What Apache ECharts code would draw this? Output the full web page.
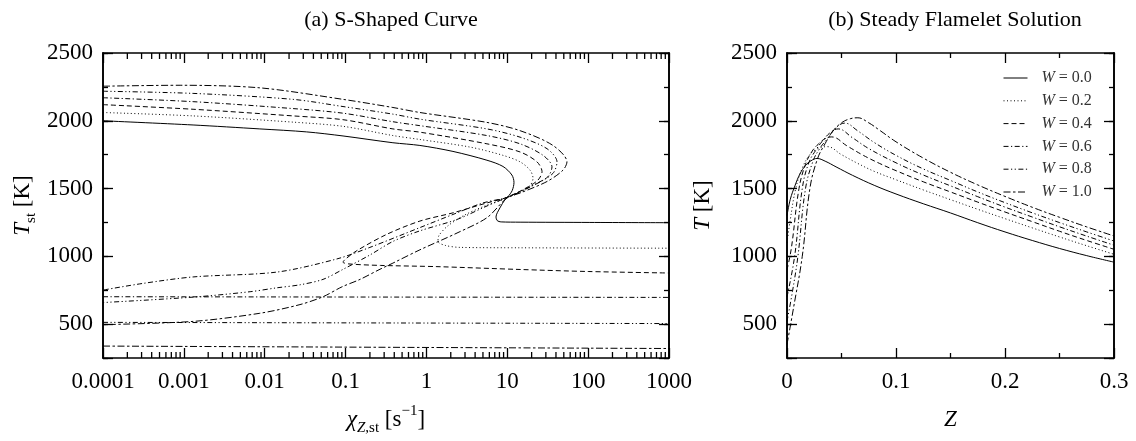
<!DOCTYPE html>
<html>
<head>
<meta charset="utf-8">
<script src="https://cdn.jsdelivr.net/npm/echarts/dist/echarts.min.js"></script>
<style>
  html, body { margin: 0; padding: 0; background: #fff; }
  #chart { width: 1136px; height: 441px; }
</style>
</head>
<body>
<div id="chart"></div>
<script>
// ---------------- data ----------------
const chiTickLabels = ['0.0001', '0.001', '0.01', '0.1', '1', '10', '100', '1000'];
const zTickLabels = ['0', '0.1', '0.2', '0.3'];
const tempTickLabels = ['500', '1000', '1500', '2000', '2500'];
const wLabels = ['W = 0.0', 'W = 0.2', 'W = 0.4', 'W = 0.6', 'W = 0.8', 'W = 1.0'];
const chiRange = [1e-4, 1000];
const zRange = [0, 0.3];
const tempRange = [250, 2500];

// (a) S-shaped curves: [chi_st, T_st] following each curve
const sCurveW00 = [[1e-4,2000],[1.3e-3,1969],[8.7e-3,1940],[0.033,1918],[0.093,1888],[0.385,1838],[0.83,1818],[2.13,1774],[5.6,1709],[8.85,1663],[11.4,1600],[12.1,1545],[11.5,1485],[10.2,1440],[9.36,1418],[8.1,1357],[7.25,1290],[7.5,1264],[8.4,1254],[14.4,1252],[105,1250],[1000,1248]];
const sCurveW02 = [[1e-4,2061],[1.3e-3,2036],[0.0224,1990],[0.093,1959],[0.385,1891],[0.83,1862],[3.46,1806],[8.85,1745],[14.4,1697],[19.1,1636],[20.8,1576],[19.1,1522],[14.4,1474],[9.9,1430],[5.3,1372],[3.0,1306],[1.85,1226],[1.43,1154],[1.39,1110],[1.7,1081],[2.6,1066],[14.4,1063],[1000,1060]];
const sCurveW04 = [[1e-4,2119],[1.3e-3,2085],[0.0224,2036],[0.093,2008],[0.385,1940],[0.83,1916],[5.6,1830],[14.4,1770],[23.3,1697],[26.9,1624],[24,1563],[17.5,1508],[9.9,1435],[5.6,1394],[2.13,1321],[0.83,1260],[0.325,1163],[0.138,1042],[0.1,980],[0.093,957],[0.11,944],[0.27,933],[1.35,924],[14.4,903],[100,888],[1000,877]];
const sCurveW06 = [[1e-4,2170],[1.3e-3,2141],[0.0224,2090],[0.093,2056],[0.385,1993],[0.83,1964],[5.6,1891],[14.4,1830],[27.7,1745],[35.7,1661],[31.9,1588],[20.8,1522],[9.9,1435],[5.0,1394],[2.13,1309],[0.83,1212],[0.2,1066],[0.0783,981],[0.0142,884],[1.3e-3,848],[3.1e-4,800],[1e-4,751]];
const sCurveW08 = [[1e-4,2218],[1.3e-3,2202],[0.0224,2158],[0.093,2105],[0.385,2049],[0.83,2012],[5.6,1940],[14.4,1879],[31,1794],[41.2,1697],[36.7,1612],[23.3,1539],[9.9,1435],[5.3,1365],[2.39,1272],[0.83,1188],[0.385,1110],[0.2,1010],[0.0903,900],[0.0526,830],[0.0273,790],[0.0142,768],[6.6e-3,739],[1.3e-3,699],[1e-4,659]];
const sCurveW10 = [[1e-4,2255],[9e-4,2262],[8.7e-3,2243],[0.093,2158],[0.385,2098],[0.83,2061],[5.6,1988],[14.4,1927],[36.7,1818],[54.7,1697],[48.9,1636],[31,1552],[14.4,1467],[9.9,1430],[5.6,1285],[2.39,1172],[0.83,1048],[0.385,950],[0.267,905],[0.151,830],[0.0903,775],[0.0526,702],[0.0273,644],[8.7e-3,580],[1.3e-3,520],[1e-4,496]];
const sLowerW06 = [[1e-4,702],[1000,697]];
const sLowerW08 = [[1e-4,513],[1000,504]];
const sLowerW10 = [[1e-4,338],[1000,320]];

// (b) steady flamelet solutions: [Z, T]
const flameletW00 = [[0,1300],[0.003,1420],[0.0075,1525],[0.012,1610],[0.017,1670],[0.022,1705],[0.0275,1722],[0.035,1702],[0.045,1660],[0.06,1598],[0.08,1524],[0.1,1460],[0.125,1388],[0.15,1320],[0.175,1248],[0.2,1180],[0.225,1117],[0.25,1058],[0.275,1005],[0.3,957]];
const flameletW02 = [[0,1100],[0.003,1270],[0.008,1500],[0.014,1650],[0.02,1740],[0.027,1790],[0.037,1809],[0.05,1750],[0.065,1685],[0.08,1627],[0.1,1565],[0.125,1490],[0.15,1418],[0.175,1347],[0.2,1278],[0.225,1210],[0.25,1143],[0.275,1078],[0.3,1015]];
const flameletW04 = [[0,900],[0.004,1060],[0.011,1500],[0.017,1680],[0.023,1775],[0.029,1830],[0.035,1868],[0.041,1881],[0.055,1815],[0.07,1745],[0.085,1685],[0.1,1632],[0.125,1550],[0.15,1475],[0.175,1400],[0.2,1327],[0.225,1256],[0.25,1185],[0.275,1117],[0.3,1052]];
const flameletW06 = [[0,700],[0.007,1000],[0.014,1500],[0.02,1690],[0.027,1790],[0.033,1855],[0.04,1915],[0.047,1940],[0.06,1875],[0.075,1795],[0.1,1690],[0.125,1600],[0.15,1520],[0.175,1440],[0.2,1363],[0.225,1290],[0.25,1218],[0.275,1149],[0.3,1082]];
const flameletW08 = [[0,520],[0.005,740],[0.01,1000],[0.017,1500],[0.024,1705],[0.03,1795],[0.037,1868],[0.045,1950],[0.053,1983],[0.065,1925],[0.08,1840],[0.1,1745],[0.125,1645],[0.15,1560],[0.175,1475],[0.2,1396],[0.225,1321],[0.25,1249],[0.275,1180],[0.3,1113]];
const flameletW10 = [[0,350],[0.006,620],[0.014,1000],[0.021,1500],[0.028,1720],[0.035,1832],[0.042,1922],[0.05,1985],[0.058,2015],[0.065,2022],[0.075,1985],[0.085,1930],[0.1,1845],[0.125,1725],[0.15,1620],[0.175,1527],[0.2,1442],[0.225,1362],[0.25,1288],[0.275,1217],[0.3,1150]];

// minor tick positions of the logarithmic axis (2..9 x 10^k)
const chiMinorTicks = [];
for (let k = -4; k <= 2; k++) for (let m = 2; m <= 9; m++) chiMinorTicks.push(m * Math.pow(10, k));

// ---------------- styling ----------------
const FONT = 'Liberation Serif';
const dashStyles = ['solid', [1, 2.5], [5, 3], [5, 2.5, 1.2, 2.5], [5, 2.5, 1.2, 2.5, 1.2, 2.5], [7, 2.5, 2.5, 2.5]];
const sCurves = [sCurveW00, sCurveW02, sCurveW04, sCurveW06, sCurveW08, sCurveW10];
const sLowers = [null, null, null, sLowerW06, sLowerW08, sLowerW10];
const flamelets = [flameletW00, flameletW02, flameletW04, flameletW06, flameletW08, flameletW10];

function lineSeries(name, data, xi, yi, i, smooth) {
  return {
    type: 'line', name: name, data: data, xAxisIndex: xi, yAxisIndex: yi,
    symbol: 'none', showSymbol: false, smooth: smooth, animation: false, silent: true, z: 3,
    lineStyle: { color: '#000', width: 1, type: dashStyles[i] },
    itemStyle: { color: '#000', opacity: 0 }
  };
}

const series = [];
sCurves.forEach((d, i) => {
  series.push(lineSeries('S-curve ' + wLabels[i], d, 0, 0, i, 0.3));
  if (sLowers[i]) series.push(lineSeries('S-curve lower ' + wLabels[i], sLowers[i], 0, 0, i, false));
});
flamelets.forEach((d, i) => series.push(lineSeries(wLabels[i], d, 2, 4, i, 0.4)));

series.push({
  type: 'custom', name: 'minorTicks', xAxisIndex: 0, yAxisIndex: 0, silent: true, animation: false,
  clip: false, z: 5,
  data: chiMinorTicks.map(v => [v, tempRange[0]]),
  renderItem: function (params, api) {
    const v = api.value(0);
    const b = api.coord([v, tempRange[0]]);
    const t = api.coord([v, tempRange[1]]);
    const st = { stroke: '#000', lineWidth: 1.3 };
    return {
      type: 'group', children: [
        { type: 'line', shape: { x1: b[0], y1: b[1], x2: b[0], y2: b[1] - 6 }, style: st },
        { type: 'line', shape: { x1: t[0], y1: t[1], x2: t[0], y2: t[1] + 6 }, style: st }
      ]
    };
  }
});

const axisLine = { show: true, onZero: false, lineStyle: { color: '#000', width: 1.6 } };
const longTick = { show: true, inside: true, length: 10, lineStyle: { color: '#000', width: 1.3 } };
const shortTick = { show: true, inside: true, length: 5, lineStyle: { color: '#000', width: 1.3 } };
const tickFont = { color: '#000', fontFamily: FONT, fontSize: 23 };
const nameRich = {
  it: { fontFamily: FONT, fontSize: 23, fontStyle: 'italic', color: '#000', lineHeight: 32, verticalAlign: 'middle' },
  subi: { fontFamily: FONT, fontSize: 15, fontStyle: 'italic', color: '#000', lineHeight: 16, verticalAlign: 'bottom' },
  sub: { fontFamily: FONT, fontSize: 15, color: '#000', lineHeight: 16, verticalAlign: 'bottom' },
  sup: { fontFamily: FONT, fontSize: 15, color: '#000', lineHeight: 16, verticalAlign: 'top' }
};
const nameStyle = { fontFamily: FONT, fontSize: 23, color: '#000', lineHeight: 32, rich: nameRich };
const tempLabel = v => (v % 500 === 0 ? tempTickLabels[v / 500 - 1] : '');

function tempAxes(g, nameText, gap) {
  return [
    { gridIndex: g, type: 'value', position: 'left', min: tempRange[0], max: tempRange[1], splitNumber: 5,
      axisLine: axisLine, axisTick: longTick, splitLine: { show: false },
      axisLabel: Object.assign({ margin: 10, formatter: tempLabel }, tickFont),
      name: nameText, nameLocation: 'middle', nameRotate: 90, nameGap: gap, nameTextStyle: nameStyle },
    { gridIndex: g, type: 'value', position: 'left', min: tempRange[0], max: tempRange[1], interval: 250,
      axisLine: axisLine, axisTick: shortTick, splitLine: { show: false }, axisLabel: { show: false } },
    { gridIndex: g, type: 'value', position: 'right', min: tempRange[0], max: tempRange[1], splitNumber: 5,
      axisLine: axisLine, axisTick: longTick, splitLine: { show: false }, axisLabel: { show: false } },
    { gridIndex: g, type: 'value', position: 'right', min: tempRange[0], max: tempRange[1], interval: 250,
      axisLine: axisLine, axisTick: shortTick, splitLine: { show: false }, axisLabel: { show: false } }
  ];
}

const option = {
  backgroundColor: '#fff',
  animation: false,
  title: [
    { text: '(a) S-Shaped Curve', left: 386, top: 4, textAlign: 'center',
      textStyle: { fontFamily: FONT, fontSize: 22, fontWeight: 'normal', color: '#000' } },
    { text: '(b) Steady Flamelet Solution', left: 950, top: 4, textAlign: 'center',
      textStyle: { fontFamily: FONT, fontSize: 22, fontWeight: 'normal', color: '#000' } }
  ],
  grid: [
    { left: 103, top: 53, width: 566, height: 309 },
    { left: 787, top: 53, width: 327, height: 309 }
  ],
  legend: {
    data: wLabels, orient: 'vertical', left: 998, top: 63,
    itemWidth: 24, itemHeight: 12, itemGap: 2.8, selectedMode: false,
    itemStyle: { opacity: 0 },
    lineStyle: { width: 1 },
    formatter: n => n.replace('W', '{i|W}'),
    textStyle: { fontFamily: FONT, fontSize: 16, color: '#333', lineHeight: 20, padding: [0, 0, 0, 9],
      rich: { i: { fontFamily: FONT, fontSize: 16, fontStyle: 'italic', color: '#333', lineHeight: 20 } } }
  },
  xAxis: [
    { gridIndex: 0, type: 'log', logBase: 10, min: chiRange[0], max: chiRange[1], splitNumber: 7, position: 'bottom',
      axisLine: axisLine, axisTick: longTick, splitLine: { show: false },
      axisLabel: Object.assign({ margin: 12, formatter: v => chiTickLabels[Math.round(Math.log10(v)) + 4] || '' }, tickFont),
      name: '{it|χ}{subi|Z}{sub|,st} [s{sup|−1}]', nameLocation: 'middle', nameGap: 46, nameTextStyle: nameStyle },
    { gridIndex: 0, type: 'log', logBase: 10, min: chiRange[0], max: chiRange[1], splitNumber: 7, position: 'top',
      axisLine: axisLine, axisTick: longTick, splitLine: { show: false }, axisLabel: { show: false } },
    { gridIndex: 1, type: 'value', min: zRange[0], max: zRange[1], interval: 0.1, position: 'bottom',
      axisLine: axisLine, axisTick: longTick, splitLine: { show: false },
      minorTick: { show: true, splitNumber: 2, length: 5, lineStyle: { color: '#000', width: 1.3 } },
      axisLabel: Object.assign({ margin: 12, formatter: v => zTickLabels[Math.round(v * 10)] }, tickFont),
      name: '{it|Z}', nameLocation: 'middle', nameGap: 46, nameTextStyle: nameStyle },
    { gridIndex: 1, type: 'value', min: zRange[0], max: zRange[1], interval: 0.1, position: 'top',
      axisLine: axisLine, axisTick: longTick, splitLine: { show: false },
      minorTick: { show: true, splitNumber: 2, length: 5, lineStyle: { color: '#000', width: 1.3 } },
      axisLabel: { show: false } }
  ],
  yAxis: [].concat(
    tempAxes(0, '{it|T}{sub|st} [K]', 64),
    tempAxes(1, '{it|T} [K]', 68)
  ),
  series: series
};

const chart = echarts.init(document.getElementById('chart'), null, { renderer: 'canvas' });
chart.setOption(option);
</script>
</body>
</html>
